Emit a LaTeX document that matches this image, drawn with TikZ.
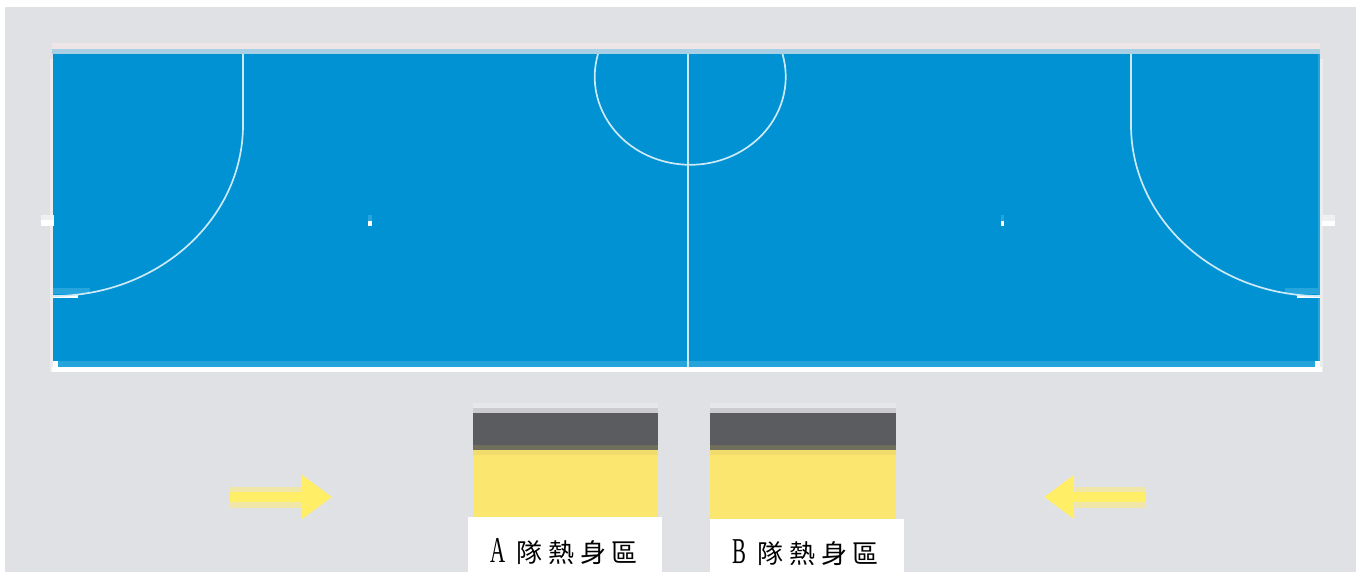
\documentclass[tikz,border=0pt]{standalone}
\usepackage{fontspec}
\setmainfont{Liberation Serif}
\newfontfamily\cjk[LetterSpace=22]{Noto Sans CJK TC}
\usepackage{tikz}
\usetikzlibrary{arrows.meta, positioning}
\definecolor{hallgray}{HTML}{E0E1E5}
\definecolor{courtblue}{HTML}{0092D2}
\definecolor{edgeblue}{HTML}{25A5DC}
\definecolor{benchgray}{HTML}{5B5C5F}
\definecolor{zoneyellow}{HTML}{FBE770}
\definecolor{arrowyellow}{HTML}{FFEE66}
\definecolor{shaftpale}{HTML}{EFE6A8}
\definecolor{bandpink}{HTML}{EEE6E6}
\definecolor{bandblue}{HTML}{A8CFE3}
\definecolor{benchpale}{HTML}{E6E7EA}
\definecolor{benchmid}{HTML}{CCCCCF}
\definecolor{benchlow}{HTML}{6F6F5C}
\definecolor{zonetop}{HTML}{F3DC6E}
\tikzstyle{courtline} = [white!80!courtblue, line width=1.7pt]
\tikzstyle{zonelabel} = [text=black, inner sep=0pt, font=\fontsize{26}{26}\selectfont]
\tikzstyle{warmarrow} = [arrowyellow, line width=10pt, -{Triangle[length=30pt,width=42pt]}]
\tikzstyle{warmshaft} = [shaftpale, line width=21pt]
\newcommand{\teamletter}[1]{\scalebox{0.8}[1.4]{#1}\hspace{5pt}}

\begin{document}
\begin{tikzpicture}[x=1pt, y=-1pt]
\useasboundingbox (0,0) rectangle (1362,572);

% Hall floor
\fill [hallgray] (5,7) rectangle (1356,572);

% Court
\fill [white!35!hallgray] (50,59) rectangle (1323,372);
\fill [white] (52,367) rectangle (1322,372);
\fill [bandpink] (52,43) rectangle (1320,49);
\fill [bandblue] (52,49) rectangle (1320,54);
\fill [courtblue] (53,54) rectangle (1320,367);
\fill [edgeblue] (53,361) rectangle (1320,367);
\fill [edgeblue] (1318,54) rectangle (1320,361);
\fill [white] (53,361) rectangle (58,367);
\fill [white] (1315,361) rectangle (1320,367);
\draw [courtline, line width=1.4pt] (688,54) -- (688,367);

% Areas and centre circle
\fill [edgeblue] (53,288) rectangle (90,294);
\fill [edgeblue] (1285,288) rectangle (1318,294);
\fill [white] (53,295) rectangle (78,298);
\fill [white] (1297,295) rectangle (1320,298);
\draw [courtline] (243,54) -- (243,125) arc [start angle=0, end angle=-90, x radius=190pt, y radius=171pt];
\draw [courtline] (1131,54) -- (1131,125) arc [start angle=180, end angle=270, x radius=189pt, y radius=171pt];
\draw [courtline] (598,54) arc [start angle=165, end angle=375, x radius=95.5pt, y radius=88pt];

% Spots and touchline marks
\fill [edgeblue] (368,215) rectangle (372,221);
\fill [edgeblue] (1001,215) rectangle (1004,221);
\fill [white] (368,221) rectangle (372,226);
\fill [white] (1001,221) rectangle (1004,226);
\fill [white!50!hallgray] (41,215) rectangle (54,220);
\fill [white] (41,220) rectangle (54,226);
\fill [white!50!hallgray] (1322,215) rectangle (1335,221);
\fill [white] (1322,221) rectangle (1335,226);

% Benches
\foreach \benchleft/\benchright in {473/658, 710/896} {
  \fill [benchpale] (\benchleft,403) rectangle (\benchright,408);
  \fill [benchmid] (\benchleft,408) rectangle (\benchright,413);
  \fill [benchgray] (\benchleft,413) rectangle (\benchright,445);
  \fill [benchlow] (\benchleft,445) rectangle (\benchright,450);
  \fill [zonetop] (\benchleft,450) rectangle (\benchright,455);
  \fill [zoneyellow] (\benchleft,455) rectangle (\benchright,520);
}

% Labels
\fill [white] (468,517) rectangle (662,572);
\fill [white] (710,519) rectangle (904,572);
\node (labelA) [zonelabel] at (564,552) {\teamletter{A} {\cjk 隊熱身區}};
\node (labelB) [zonelabel] at (805.5,553) {\teamletter{B} {\cjk 隊熱身區}};

% Arrows
\coordinate (arrowAstart) at (230,497);
\coordinate (arrowAbase) at (302,497);
\coordinate (arrowAend) at (332,497);
\coordinate (arrowBstart) at (1146,497);
\coordinate (arrowBbase) at (1075,497);
\coordinate (arrowBend) at (1044,497);
\draw [warmshaft] (arrowAstart) -- (arrowAbase);
\draw [warmshaft] (arrowBstart) -- (arrowBbase);
\draw [warmarrow] (arrowAstart) -- (arrowAend);
\draw [warmarrow] (arrowBstart) -- (arrowBend);

\end{tikzpicture}
\end{document}
